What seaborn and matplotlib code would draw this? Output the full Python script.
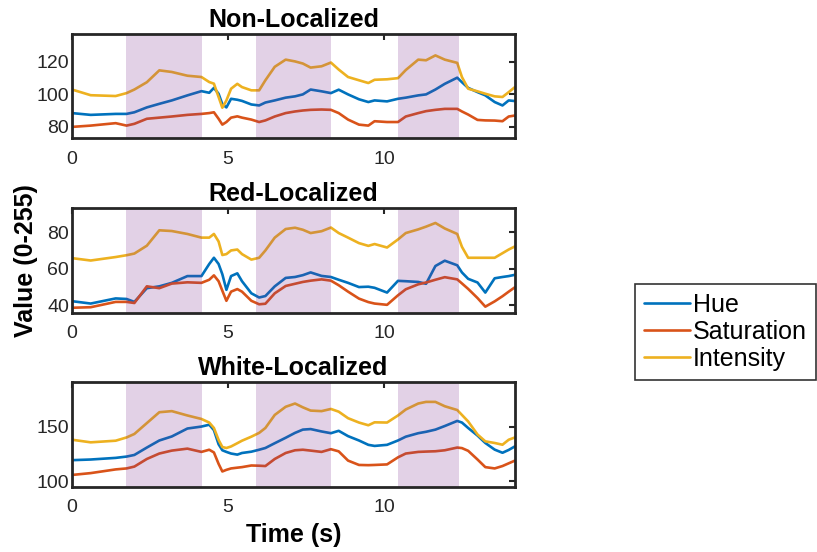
import numpy as np
import pandas as pd
import matplotlib
matplotlib.use("Agg")
import matplotlib.pyplot as plt
import seaborn as sns
from matplotlib.lines import Line2D

# ---------------- data ----------------
time_s = [0, 0.6, 1.4, 1.75, 2.0, 2.4, 2.8, 3.2, 3.7, 4.15, 4.4, 4.55, 4.7, 4.82, 4.95,
          5.1, 5.3, 5.45, 5.75, 6.0, 6.2, 6.5, 6.85, 7.15, 7.4, 7.65, 8.0, 8.3, 8.55,
          8.85, 9.2, 9.5, 9.7, 10.1, 10.45, 10.7, 11.1, 11.35, 11.65, 11.95, 12.35,
          12.5, 12.7, 13.0, 13.25, 13.55, 13.8, 14.0, 14.2]

# Non-Localized
non_hue = [88.5, 87.4, 88, 88, 89, 92, 94.2, 96.3, 99.4, 102, 101, 104, 100.4, 94, 92,
           97.3, 96.7, 96, 93.8, 93.2, 95, 96.3, 98, 98.8, 100, 103, 101.9, 100.8, 102.9,
           100, 97, 95.3, 96.3, 95.7, 97.3, 98, 99.4, 100, 103, 106.5, 110.3,
           107.5, 104, 101.4, 99.4, 95.3, 93.2, 96.3, 95.9]
non_sat = [80, 80.8, 82.3, 80.8, 81.9, 85, 85.7, 86.4, 87.4, 88, 88.5, 89, 85, 81.4, 83,
           85.7, 86.5, 85.7, 84.5, 83, 84, 86.4, 88.5, 89.5, 90.1, 90.5, 90.7, 90.5, 88.5,
           84.5, 81.4, 80.8, 83.5, 83, 83, 86.4, 88.5, 89.7, 90.5, 91.1, 91.1,
           89.5, 87.6, 84.3, 84, 83.9, 83.5, 86.4, 87]
non_int = [103, 99.5, 99, 100.8, 103, 107.5, 114.8, 113.8, 111.5, 110.7, 107.6, 106.6, 98.4, 91.8, 96.3,
           103.5, 106.5, 104.5, 102.5, 102.5, 108.7, 117, 121.4, 120.3, 119, 116.5, 117.3, 119.6, 115.3,
           110.7, 108.7, 107, 109, 109.3, 110, 115, 121.4, 121, 124, 121.4, 119.4,
           110.7, 103.5, 101.9, 100.4, 98.8, 98.4, 101.4, 104.5]

# Red-Localized
red_hue = [42.3, 41, 43.8, 43.5, 41.9, 49.4, 50.4, 52.3, 56, 56, 62.6, 66, 62.6, 57, 48.5,
           56, 57.5, 53.2, 46.6, 44.3, 45.1, 50.4, 55, 55.5, 56.5, 58, 56.1, 55.5, 54,
           52.3, 50, 50.2, 49.6, 47, 53.4, 53.2, 52.8, 51.8, 61.5, 64.4, 61.9,
           58, 54.5, 52.5, 47, 54.8, 55.5, 56, 56.7]
red_sat = [38.7, 39, 41.9, 41.9, 41.3, 50.4, 49.4, 51.9, 52.6, 52.3, 54, 56.4, 53.2, 48, 42.5,
           47.5, 48.9, 47.5, 42.5, 40.6, 40.9, 46.6, 50.6, 51.8, 52.8, 53.5, 54.2, 53.5, 51,
           47.5, 43.7, 41.8, 41, 40.3, 45.5, 48.8, 51.5, 52.5, 54, 55.4, 54.2,
           52, 49, 44, 39.3, 42.2, 45, 47.5, 49.9]
red_int = [65.8, 64.5, 66.4, 67.4, 68.3, 72.6, 81, 80.6, 79, 77, 77, 79, 74.9, 67.5, 68,
           70, 70.5, 68, 65, 66, 70, 77, 81.7, 82.4, 81.3, 79.5, 80.5, 82.5, 79.5,
           77, 74, 72.5, 73.5, 71.6, 76, 79.5, 81.5, 83, 85, 82, 79,
           72, 66, 66, 66, 66, 68.5, 70.5, 72.2]

# White-Localized
white_hue = [119.4, 120, 121.5, 122.7, 124.2, 131, 137.5, 141.2, 148.5, 150.3, 152, 147, 134, 128.5, 127,
             125.5, 124.5, 126, 127.2, 129, 130.6, 135, 140, 144.5, 147.5, 148, 145.8, 144.2, 146.4,
             141.5, 137.5, 133.5, 132.5, 133.5, 137.5, 141, 144.2, 145.5, 147.5, 150.8, 155.5,
             154, 149, 142, 135.2, 129.1, 126.2, 128.8, 132.1]
white_sat = [105.8, 107.5, 110.9, 111.8, 113.5, 120.5, 125.5, 128.2, 130, 127, 129, 126.5, 116, 109, 110.5,
             111.8, 112.5, 113, 114.5, 114.3, 114, 120.5, 126, 128.5, 129, 128.2, 127, 129.5, 127.5,
             119, 115, 114.8, 115, 115.5, 122, 125.5, 127, 127.3, 127.6, 128.5, 131,
             130.5, 128, 120, 113, 111.8, 114, 116.5, 119]
white_int = [138.2, 135.8, 137.3, 140.3, 143.5, 153.5, 163.5, 164.5, 160.5, 157.3, 154, 149, 138, 131.5, 130.6,
             132, 135, 137.3, 141, 144.5, 149, 161, 168.5, 171.5, 168, 165, 164.5, 166.5, 164,
             158, 154, 151.5, 154.2, 154, 160.5, 166, 171.5, 173, 173, 169, 165.5,
             161, 155, 143, 136.7, 135.2, 133.6, 138.2, 140.3]

channels = ["Hue", "Saturation", "Intensity"]
panel_titles = ["Non-Localized", "Red-Localized", "White-Localized"]
stim_starts = [1.73, 5.89, 10.46]
stim_ends = [4.18, 8.30, 12.40]
x_ticks = [0, 5, 10]
y_ticks = [[80, 100, 120], [40, 60, 80], [100, 150]]
y_limits = [(73, 137), (36, 93), (95, 191)]

panels = [
    (non_hue, non_sat, non_int),
    (red_hue, red_sat, red_int),
    (white_hue, white_sat, white_int),
]

# ---------------- style ----------------
sns.set_theme(style="white")
plt.rcParams["font.family"] = ["Liberation Sans", "DejaVu Sans"]

colors = {"Hue": "#0072BD", "Saturation": "#D95319", "Intensity": "#EDB120"}
edge = "#262626"

fig = plt.figure(figsize=(8.17, 5.52), dpi=100)
ax_rects = [
    [0.0881, 0.7495, 0.5422, 0.1884],
    [0.0881, 0.4335, 0.5422, 0.1891],
    [0.0881, 0.1183, 0.5422, 0.1891],
]

for i, (rect, series) in enumerate(zip(ax_rects, panels)):
    ax = fig.add_axes(rect)
    rows = []
    for ch, vals in zip(channels, series):
        for t, v in zip(time_s, vals):
            rows.append({"time": t, "value": v, "channel": ch})
    df = pd.DataFrame(rows)
    sns.lineplot(data=df, x="time", y="value", hue="channel", palette=colors,
                 hue_order=channels, ax=ax, legend=False, linewidth=1.9,
                 estimator=None, sort=False)
    for s0, s1 in zip(stim_starts, stim_ends):
        ax.axvspan(s0, s1, facecolor="#7E2F8E", alpha=0.22, edgecolor="none", zorder=5)
    ax.set_xlim(0, 14.2)
    ax.set_ylim(*y_limits[i])
    ax.set_xticks(x_ticks)
    ax.set_yticks(y_ticks[i])
    ax.set_xlabel("")
    ax.set_ylabel("")
    ax.set_title(panel_titles[i], fontsize=18, fontweight="bold", pad=5, color="black")
    ax.tick_params(direction="in", top=True, right=True, length=4, width=1.5,
                   colors=edge, labelsize=14, labelcolor="#262626")
    ax.tick_params(axis="x", pad=9)
    ax.tick_params(axis="y", pad=2)
    for sp in ax.spines.values():
        sp.set_visible(True)
        sp.set_color(edge)
        sp.set_linewidth(2.0)
        sp.set_zorder(10)
    if i == 1:
        ax.set_ylabel("Value (0-255)", fontsize=18, fontweight="bold", labelpad=7,
                      color="black")
    if i == 2:
        ax.set_xlabel("Time (s)", fontsize=18, fontweight="bold", labelpad=5,
                      color="black")

handles = [Line2D([0], [0], color=colors[c], lw=1.9) for c in channels]
leg = fig.legend(handles, channels, loc="upper left", bbox_to_anchor=(0.777, 0.4855),
                 fontsize=18, frameon=True, fancybox=False, handlelength=1.85,
                 handletextpad=0.12, labelspacing=0.12, borderpad=0.35, borderaxespad=0)
leg.get_frame().set_edgecolor("black")
leg.get_frame().set_linewidth(1.2)
for txt in leg.get_texts():
    txt.set_color("black")

fig.savefig("out.png", dpi=100)
